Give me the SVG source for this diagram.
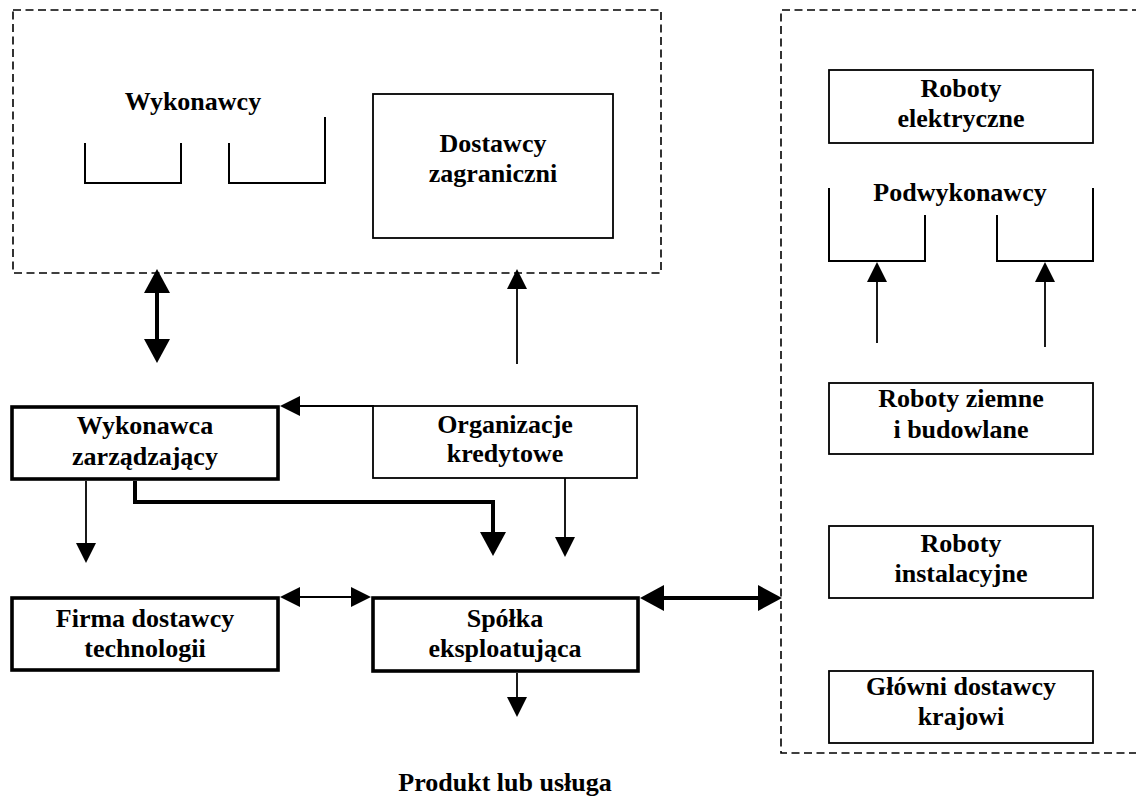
<svg xmlns="http://www.w3.org/2000/svg" width="1136" height="796" viewBox="0 0 1136 796" font-family="'Liberation Serif', 'Times New Roman', Times, 'DejaVu Serif', serif">
  <style>
    text { font-family: "Liberation Serif", "Times New Roman", Times, "DejaVu Serif", serif; font-weight: 700; font-size: 26px; fill: #000; text-anchor: middle; }
    .dash { fill: none; stroke: #000; stroke-width: 1.6; stroke-dasharray: 8 4.5; }
    .box { fill: #fff; stroke: #000; stroke-width: 1.8; }
    .boxb { fill: #fff; stroke: #000; stroke-width: 3.6; }
    .brk { fill: none; stroke: #000; stroke-width: 2; }
    .ln { fill: none; stroke: #000; stroke-width: 1.8; }
    .lnb { fill: none; stroke: #000; stroke-width: 4; }
  </style>
  <defs>
    <marker id="ah" markerUnits="userSpaceOnUse" markerWidth="20" markerHeight="20" viewBox="0 0 20 20" refX="0" refY="10" orient="auto-start-reverse">
      <path d="M0,0 L20,10 L0,20 z" fill="#000"/>
    </marker>
    <marker id="ahb" markerUnits="userSpaceOnUse" markerWidth="24" markerHeight="26" viewBox="0 0 24 26" refX="0" refY="13" orient="auto-start-reverse">
      <path d="M0,0 L24,13 L0,26 z" fill="#000"/>
    </marker>
  </defs>

  <rect width="1136" height="796" fill="#fff"/>

  <!-- dashed groupings -->
  <g id="group-top">
    <rect class="dash" x="13" y="10" width="648" height="263"/>
    <text x="193" y="110">Wykonawcy</text>
    <path class="brk" d="M85,143 V183 H181 V143"/>
    <path class="brk" d="M229,143 V183 H325 V117"/>
  </g>
  <g id="group-right">
    <path class="dash" d="M1140,10 H781 V753 H1140"/>
  </g>

  <!-- connectors -->
  <g id="connectors">
    <line class="lnb" x1="157" y1="293" x2="157" y2="339" marker-start="url(#ahb)" marker-end="url(#ahb)"/>
    <line class="ln" x1="517" y1="364" x2="517" y2="289" marker-end="url(#ah)"/>
    <line class="ln" x1="374" y1="406" x2="300" y2="406" marker-end="url(#ah)"/>
    <path class="lnb" d="M135,481 V502 H493 V532" marker-end="url(#ahb)"/>
    <line class="ln" x1="565" y1="478" x2="565" y2="537" marker-end="url(#ah)"/>
    <line class="ln" x1="86" y1="481" x2="86" y2="543" marker-end="url(#ah)"/>
    <line class="ln" x1="300" y1="597" x2="351" y2="597" marker-start="url(#ah)" marker-end="url(#ah)"/>
    <line class="lnb" x1="664" y1="598" x2="758" y2="598" marker-start="url(#ahb)" marker-end="url(#ahb)"/>
    <line class="ln" x1="517" y1="673" x2="517" y2="697" marker-end="url(#ah)"/>
    <line class="ln" x1="877" y1="343" x2="877" y2="282" marker-end="url(#ah)"/>
    <line class="ln" x1="1045" y1="347" x2="1045" y2="282" marker-end="url(#ah)"/>
  </g>

  <g id="dostawcy-zagraniczni">
    <rect class="box" x="373" y="94" width="240" height="144"/>
    <text x="493" y="152">Dostawcy</text>
    <text x="493" y="182">zagraniczni</text>
  </g>

  <g id="wykonawca-zarzadzajacy">
    <rect class="boxb" x="12" y="407" width="266" height="72"/>
    <text x="145" y="434">Wykonawca</text>
    <text x="145" y="465">zarządzający</text>
  </g>

  <g id="organizacje-kredytowe">
    <rect class="box" x="373" y="406" width="264" height="72"/>
    <text x="505" y="433">Organizacje</text>
    <text x="505" y="462">kredytowe</text>
  </g>

  <g id="firma-dostawcy-technologii">
    <rect class="boxb" x="12" y="598" width="266" height="72"/>
    <text x="145" y="627">Firma dostawcy</text>
    <text x="145" y="657">technologii</text>
  </g>

  <g id="spolka-eksploatujaca">
    <rect class="boxb" x="373" y="598" width="265" height="73"/>
    <text x="505" y="627">Spółka</text>
    <text x="505" y="657">eksploatująca</text>
  </g>

  <g id="produkt">
    <text x="505" y="791">Produkt lub usługa</text>
  </g>

  <g id="roboty-elektryczne">
    <rect class="box" x="829" y="70" width="264" height="73"/>
    <text x="961" y="97">Roboty</text>
    <text x="961" y="127">elektryczne</text>
  </g>

  <g id="podwykonawcy">
    <text x="960" y="201">Podwykonawcy</text>
    <path class="brk" d="M829,188 V261 H925 V215"/>
    <path class="brk" d="M997,215 V261 H1093 V188"/>
  </g>

  <g id="roboty-ziemne">
    <rect class="box" x="829" y="383" width="264" height="71"/>
    <text x="961" y="407">Roboty ziemne</text>
    <text x="961" y="438">i budowlane</text>
  </g>

  <g id="roboty-instalacyjne">
    <rect class="box" x="829" y="526" width="264" height="72"/>
    <text x="961" y="552">Roboty</text>
    <text x="961" y="582">instalacyjne</text>
  </g>

  <g id="glowni-dostawcy">
    <rect class="box" x="829" y="671" width="264" height="72"/>
    <text x="961" y="695">Główni dostawcy</text>
    <text x="961" y="725">krajowi</text>
  </g>
</svg>
